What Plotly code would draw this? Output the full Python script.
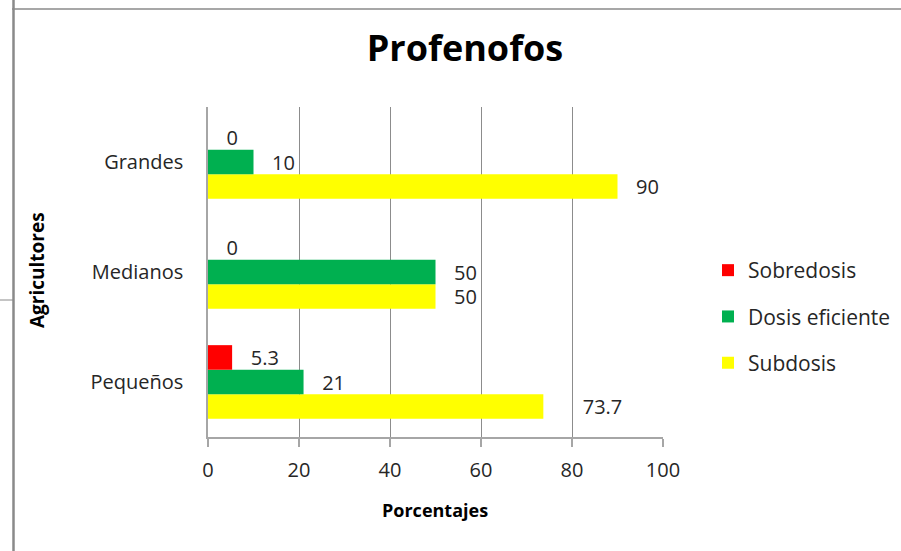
import plotly.graph_objects as go

categories = ["Pequeños", "Medianos", "Grandes"]
sobredosis = [5.3, 0, 0]
dosis_eficiente = [21, 50, 10]
subdosis = [73.7, 50, 90]
x_ticks = [0, 20, 40, 60, 80, 100]

FONT = "Open Sans"
W, H = 901, 551
L, R, T, B = 208, 663, 107, 437  # plot area in pixels


def px(x):
    return (x - L) / (R - L)


def py(y):
    return (B - y) / (B - T)


NB = "\u00a0"


def labels(vals, extra=None):
    out = []
    for i, v in enumerate(vals):
        pad = 3 + (extra[i] if extra else 0)
        out.append(NB * pad + (str(v) if v != int(v) else str(int(v))))
    return out


series = [
    ("Subdosis", subdosis, "#FFFF00", [4, 0, 0], 3),
    ("Dosis eficiente", dosis_eficiente, "#00B050", None, 2),
    ("Sobredosis", sobredosis, "#FF0000", None, 1),
]

fig = go.Figure()
for name, vals, color, extra, rank in series:
    fig.add_trace(go.Bar(
        y=categories, x=vals, name=name, orientation="h",
        marker=dict(color=color, line=dict(width=0)),
        text=labels(vals, extra), textposition="outside",
        textfont=dict(family=FONT, size=20, color="#262626"),
        constraintext="none", cliponaxis=False,
        legendgroup=name, legendrank=rank,
    ))

fig.update_layout(
    width=W, height=H,
    margin=dict(l=L, r=W - R, t=T, b=H - B, pad=0, autoexpand=False),
    paper_bgcolor="white", plot_bgcolor="white",
    barmode="group", bargap=0.33, bargroupgap=0,
    font=dict(family=FONT, size=20, color="#262626"),
    title=dict(text="<b>Profenofos</b>", x=px(465), xref="paper", xanchor="center",
               y=1 - 48 / H, yref="container", yanchor="middle",
               font=dict(family=FONT, size=36, color="black")),
    xaxis=dict(range=[0, 100], tickvals=x_ticks, showgrid=True, gridcolor="#8c8c8c",
               gridwidth=1, showline=True, linecolor="#a6a6a6", linewidth=1.5,
               ticks="outside", ticklen=8, tickcolor="#a6a6a6", tickwidth=1.5,
               ticklabelstandoff=6, tickfont=dict(size=20), zeroline=False, fixedrange=True),
    yaxis=dict(categoryorder="array", categoryarray=categories, showline=True,
               linecolor="#a6a6a6", linewidth=1.5, ticks="", showgrid=False,
               ticklabelstandoff=19, tickfont=dict(size=20), fixedrange=True),
    legend=dict(x=px(708), y=py(250), xanchor="left", yanchor="top",
                traceorder="grouped", tracegroupgap=16,
                font=dict(family=FONT, size=21, color="#262626"), bgcolor="rgba(0,0,0,0)"),
    showlegend=True,
    annotations=[
        dict(text="<b>Porcentajes</b>", x=px(435), y=py(510), xref="paper", yref="paper",
             showarrow=False, xanchor="center", yanchor="middle",
             font=dict(family=FONT, size=18, color="black")),
        dict(text="<b>Agricultores</b>", x=px(37), y=py(270), xref="paper", yref="paper",
             showarrow=False, xanchor="center", yanchor="middle", textangle=-90,
             font=dict(family=FONT, size=19, color="black")),
    ],
    shapes=[
        dict(type="line", xref="paper", yref="paper", x0=px(12), x1=px(901), y0=py(9), y1=py(9),
             line=dict(color="#8a8a8a", width=1.5)),
        dict(type="line", xref="paper", yref="paper", x0=px(13.5), x1=px(13.5), y0=py(0), y1=py(551),
             line=dict(color="#8a8a8a", width=2.5)),
        dict(type="line", xref="paper", yref="paper", x0=px(0), x1=px(13), y0=py(300), y1=py(300),
             line=dict(color="#8a8a8a", width=1)),
    ],
)

fig.write_html("out.html", config={"displayModeBar": False},
               post_script="document.body.style.margin='0';")
